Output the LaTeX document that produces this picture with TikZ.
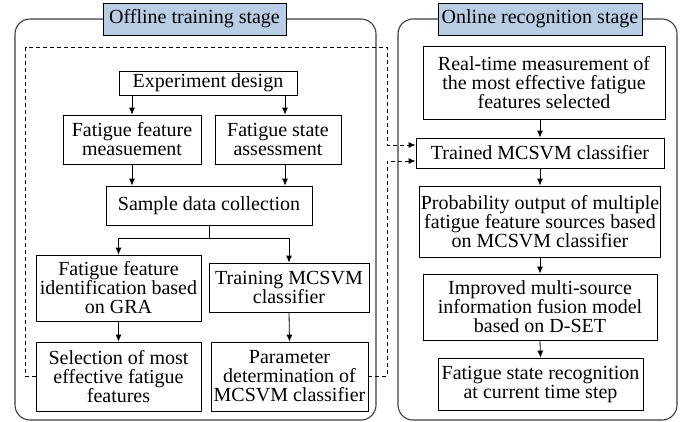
\documentclass[tikz,border=0pt]{standalone}
\usepackage{fontspec}
\setmainfont{Liberation Serif}
\usetikzlibrary{arrows.meta}
\definecolor{titlefill}{HTML}{B9CDE5}
\definecolor{panelline}{HTML}{3C3C3C}
\tikzset{
  stepbox/.style={draw,line width=0.8pt,align=center,inner sep=1pt,
    font=\fontsize{20}{19}\selectfont},
  titlebox/.style={draw,line width=0.8pt,fill=titlefill,inner sep=2pt,
    minimum height=32,font=\fontsize{20}{20}\selectfont},
  panel/.style={draw=panelline,line width=1.1pt,rounded corners=15pt},
  flow/.style={line width=0.8pt,-{Latex[length=7pt,width=6pt]}},
  feed/.style={line width=0.8pt,dash pattern=on 4pt off 3pt,-{Latex[length=7pt,width=6pt]}}
}
\begin{document}
\begin{tikzpicture}[x=1pt,y=-1pt]
  \useasboundingbox (0,0) rectangle (692,421);
  % the two stage frames
  \draw[panel] (15,19) rectangle (376,420);
  \draw[panel] (398,19) rectangle (677,420);
  \node[titlebox,minimum width=183] (offtitle) at (194.5,19) {Offline training stage};
  \node[titlebox,minimum width=204] (ontitle) at (540,19) {Online recognition stage};

  % offline training stage
  \node[stepbox,minimum width=178,minimum height=24] (design) at (208,83) {Experiment design};
  \node[stepbox,minimum width=138,minimum height=49] (measure) at (132,139.5) {Fatigue feature\\measuement};
  \node[stepbox,minimum width=126,minimum height=49] (assess) at (278,139.5) {Fatigue state\\assessment};
  \node[stepbox,minimum width=206,minimum height=39] (sample) at (209,205.5) {Sample data collection};
  \node[stepbox,minimum width=165,minimum height=66] (gra) at (118.5,288) {Fatigue feature\\identification based\\on GRA};
  \node[stepbox,minimum width=160,minimum height=49] (train) at (289,287.5) {Training MCSVM\\classifier};
  \node[stepbox,minimum width=165,minimum height=69] (select) at (118.5,376.5) {Selection of most\\effective fatigue\\features};
  \node[stepbox,minimum width=157,minimum height=69] (param) at (289.5,376.5) {Parameter\\determination of\\MCSVM classifier};

  \coordinate (assesstop) at ([xshift=7pt]assess.north);
  \coordinate (assessbot) at ([xshift=7pt]assess.south);
  \draw[flow] (design.south -| measure.north) -- (measure.north);
  \draw[flow] (design.south -| assesstop) -- (assesstop);
  \draw[flow] (measure.south) -- (measure.south |- sample.north);
  \draw[flow] (assessbot) -- (assessbot |- sample.north);
  \coordinate (split) at ([yshift=-13pt]sample.south);
  \draw[line width=0.8pt] (sample.south) -- (split);
  \draw[flow] (split) -| (gra.north);
  \draw[flow] (split) -| (train.north);
  \draw[flow] (gra.south) -- (select.north);
  \draw[flow] (train.south) -- (param.north);

  % online recognition stage
  \node[stepbox,minimum width=242,minimum height=73] (realtime) at (544,82.5) {Real-time measurement of\\the most effective fatigue\\features selected};
  \node[stepbox,minimum width=248,minimum height=30] (trained) at (540,153) {Trained MCSVM classifier};
  \node[stepbox,minimum width=238,minimum height=71] (prob) at (540,221.5) {Probability output of multiple\\fatigue feature sources based\\on MCSVM classifier};
  \node[stepbox,minimum width=234,minimum height=66] (fusion) at (540,307) {Improved multi-source\\information fusion model\\based on D-SET};
  \node[stepbox,minimum width=205,minimum height=52] (recog) at (540.5,384) {Fatigue state recognition\\at current time step};

  \draw[flow] (realtime.south -| trained.north) -- (trained.north);
  \draw[flow] (trained.south) -- (prob.north);
  \draw[flow] (prob.south) -- (fusion.north);
  \draw[flow] (fusion.south) -- (recog.north);

  % results handed over to the online stage
  \coordinate (feedin1) at ([yshift=8pt]trained.west);
  \coordinate (feedin2) at ([yshift=-8pt]trained.west);
  \draw[feed] (select.west) -- ++(-10,0) |- (387,47) |- (feedin1);
  \draw[feed] (param.east) -| (387,161) -- (feedin2);
\end{tikzpicture}
\end{document}
